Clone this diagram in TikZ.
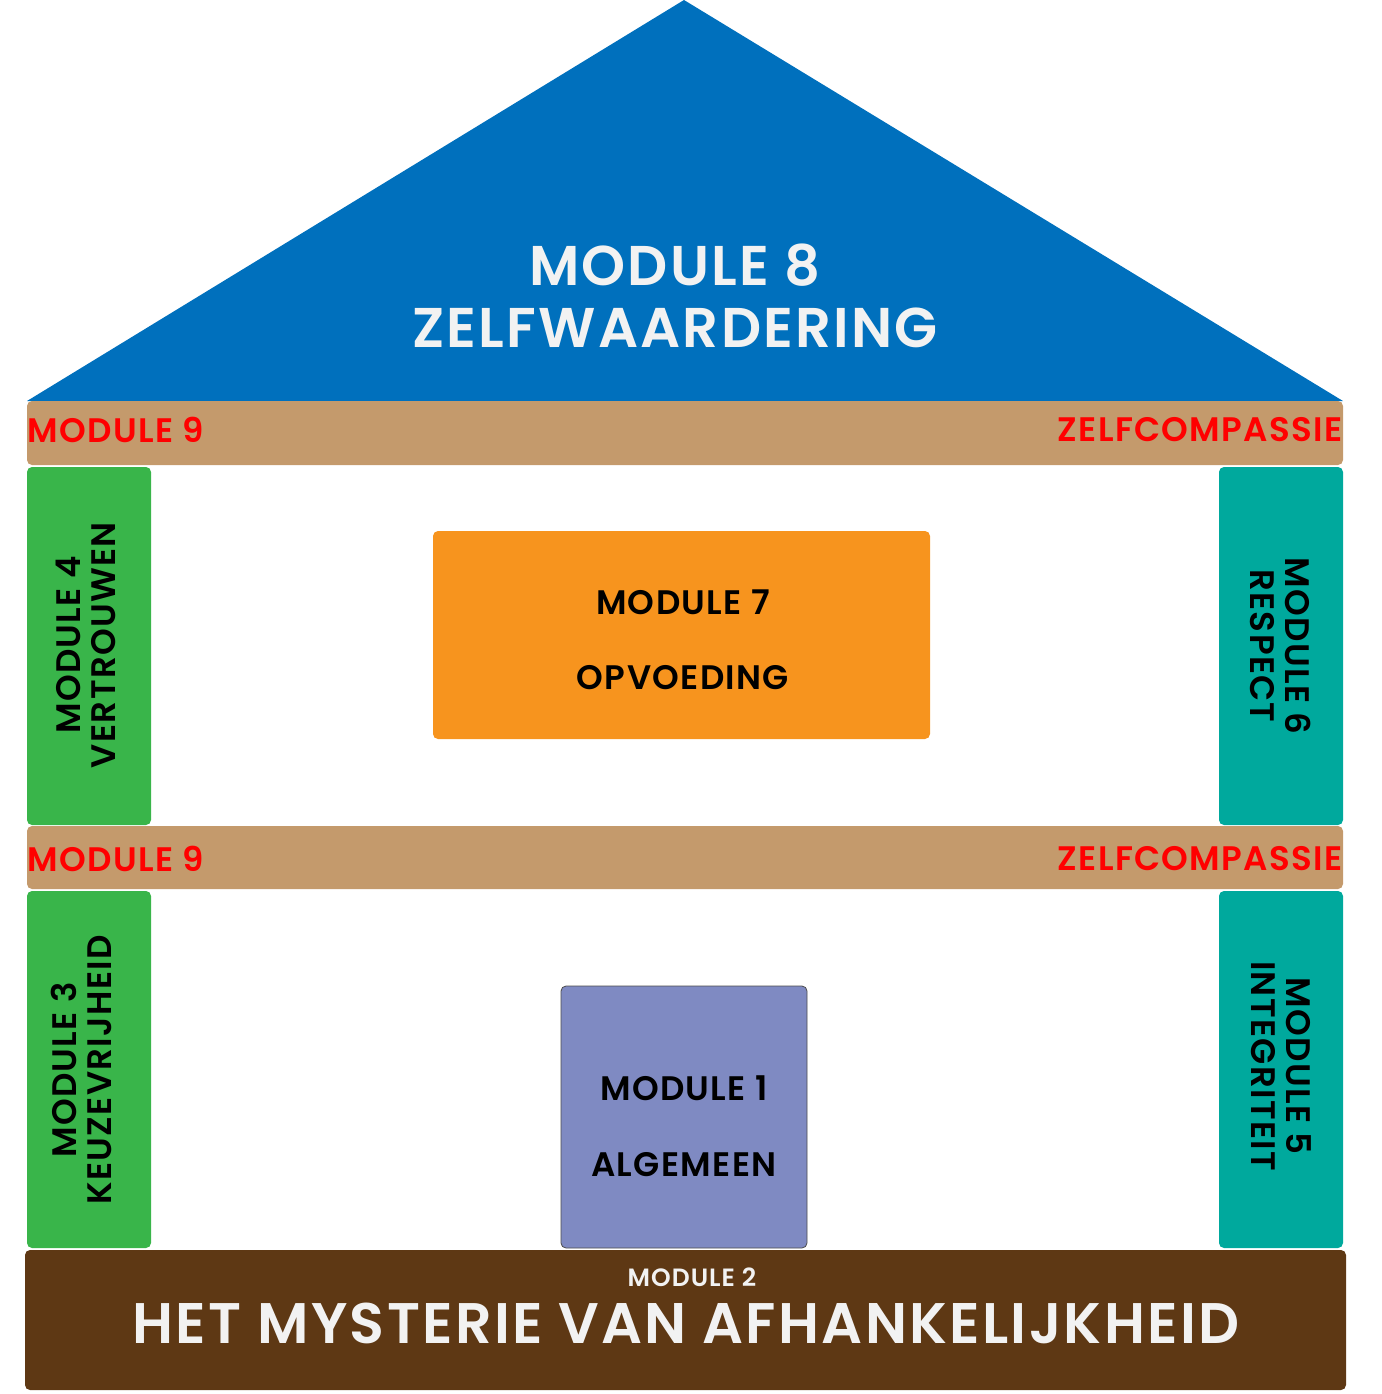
\documentclass[tikz,border=0pt]{standalone}
\usepackage{fontspec}
\setmainfont{Poppins}[BoldFont={* SemiBold}]
\newfontfamily\hf{Poppins}[BoldFont={* SemiBold},LetterSpace=4]
\definecolor{roofblue}{HTML}{0070BD}
\definecolor{beamtan}{HTML}{C49A6C}
\definecolor{pgreen}{HTML}{39B54A}
\definecolor{pteal}{HTML}{00A99D}
\definecolor{borange}{HTML}{F7941E}
\definecolor{bpurple}{HTML}{7F8AC2}
\definecolor{basebrown}{HTML}{5E3814}
\definecolor{redtxt}{HTML}{FF0000}
\definecolor{offwhite}{HTML}{F2F2F2}
\tikzset{
  block/.style={inner sep=0pt, outer sep=0pt, anchor=north west, rounded corners=2.5pt},
  beam/.style={block, fill=beamtan, minimum width=658pt, minimum height=32pt},
  pillar/.style={block, minimum width=62pt, minimum height=179pt},
  redlab/.style={inner sep=0pt, text=redtxt, font=\hf\bfseries\fontsize{17}{17}\selectfont},
  blacklab/.style={inner sep=0pt, text=black, font=\hf\bfseries\fontsize{17}{17}\selectfont},
  pillartext/.style={inner sep=0pt, text=black, align=center, font=\hf\bfseries\fontsize{17}{17.5}\selectfont},
  bigwhite/.style={inner sep=0pt, text=offwhite, font=\hf\bfseries\fontsize{28}{28}\selectfont},
}
\begin{document}
\begin{tikzpicture}[x=0.5pt,y=-0.5pt]
\useasboundingbox (0,0) rectangle (1382,1394);
% roof
\coordinate (roofL) at (27,401);
\coordinate (roofT) at (684,0);
\coordinate (roofR) at (1343,401);
\fill[roofblue] (roofL) -- (roofT) -- (roofR) -- cycle;
\node[bigwhite] (m8) at (675,265) {MODULE 8};
\node[bigwhite] (zw) at (675,328) {ZELFWAARDERING};
% beams
\node[beam] (beam1) at (27,401) {};
\node[beam, minimum height=31.5pt] (beam2) at (27,826) {};
\node[redlab, anchor=west] (b1l) at (27,430) {MODULE 9};
\node[redlab, anchor=east] (b1r) at (1343,430) {ZELFCOMPASSIE};
\node[redlab, anchor=west] (b2l) at (27,859) {MODULE 9};
\node[redlab, anchor=east] (b2r) at (1343,859) {ZELFCOMPASSIE};
% pillars
\node[pillar, fill=pgreen] (p4) at (27,467) {};
\node[pillar, fill=pteal] (p6) at (1219,467) {};
\node[pillar, fill=pgreen, minimum height=178.5pt] (p3) at (27,891) {};
\node[pillar, fill=pteal, minimum height=178.5pt] (p5) at (1219,891) {};
\node[pillartext, rotate=90] (t4) at (86,645) {MODULE 4\\VERTROUWEN};
\node[pillartext, rotate=-90] (t6) at (1281,646) {MODULE 6\\RESPECT};
\node[pillartext, rotate=90] (t3) at (81,1070) {MODULE 3\\KEUZEVRIJHEID};
\node[pillartext, rotate=-90] (t5) at (1281,1066) {MODULE 5\\INTEGRITEIT};
% center boxes
\node[block, fill=borange, minimum width=248.5pt, minimum height=104pt] (m7box) at (433,531) {};
\node[blacklab] (m7a) at (683,602) {MODULE 7};
\node[blacklab] (m7b) at (683,678) {OPVOEDING};
\node[block, fill=bpurple, draw=black!70, line width=0.4pt, minimum width=123pt, minimum height=131pt] (m1box) at (561,986) {};
\node[blacklab] (m1a) at (684,1088) {MODULE 1};
\node[blacklab] (m1b) at (684,1165) {ALGEMEEN};
% base
\node[block, fill=basebrown, minimum width=660.5pt, minimum height=70pt] (base) at (25,1250) {};
\node[inner sep=0pt, text=offwhite, font=\hf\bfseries\fontsize{12.5}{12.5}\selectfont] (m2) at (692,1277) {MODULE 2};
\node[inner sep=0pt, text=offwhite, font=\hf\bfseries\fontsize{28.6}{28.6}\selectfont] (mys) at (686,1323) {HET MYSTERIE VAN AFHANKELIJKHEID};
\end{tikzpicture}
\end{document}
